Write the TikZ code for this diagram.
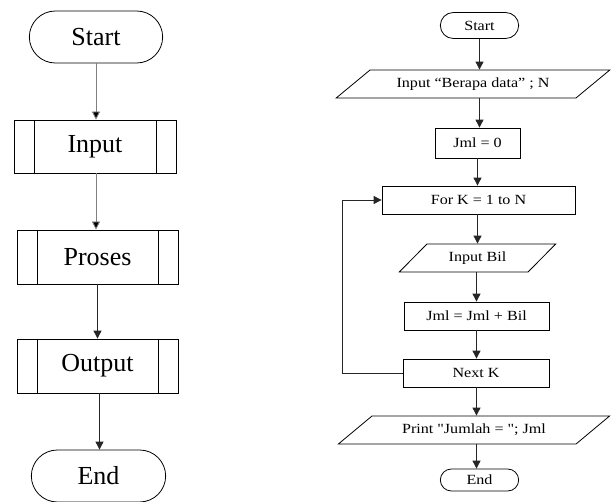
\documentclass[tikz,border=0pt]{standalone}
\usepackage{fontspec}
\setmainfont{Liberation Serif}
\newfontfamily\flowfont[FakeStretch=1.15]{Liberation Serif}
\usepackage{tikz}
\usetikzlibrary{arrows.meta, positioning, calc, shapes.misc, shapes.geometric}

\tikzset{
  bigterm/.style={draw, rounded rectangle, minimum width=140pt, minimum height=52pt,
    font=\fontsize{26}{30}\selectfont},
  bigproc/.style={draw, rectangle, minimum width=161pt, minimum height=54pt,
    font=\fontsize{26}{30}\selectfont,
    path picture={
      \draw ([xshift=20pt]path picture bounding box.north west) -- ([xshift=20pt]path picture bounding box.south west);
      \draw ([xshift=-20pt]path picture bounding box.north east) -- ([xshift=-20pt]path picture bounding box.south east);
    }},
  term/.style={draw, rounded rectangle, minimum width=85pt, minimum height=26pt,
    font=\flowfont\fontsize{14}{16}\selectfont},
  box/.style={draw, rectangle, minimum height=28pt, inner sep=2pt,
    font=\flowfont\fontsize{14}{16}\selectfont},
  iobox/.style={draw, trapezium, trapezium stretches=true, minimum height=28pt,
    inner sep=1pt, font=\flowfont\fontsize{14}{16}\selectfont},
  arr/.style={draw=black!85, line width=0.9pt, -{Triangle[length=8pt, width=8pt]}},
  thinarr/.style={draw=gray, line width=0.8pt, -{Triangle[length=8pt, width=8pt, fill=black]}}
}

\begin{document}
\begin{tikzpicture}[x=1pt, y=-1pt, line width=0.8pt]
  \useasboundingbox (0,0) rectangle (613,502);

  % left: general flow
  \node[bigterm] (lstart) at (96,37) {Start};
  \node[bigproc, minimum width=162pt, minimum height=53pt] (linput) at (95,146.5) {Input};
  \node[bigproc] (lproses) at (97.5,257) {Proses};
  \node[bigproc] (loutput) at (97.5,366) {Output};
  \node[bigterm, minimum width=141pt] (lend) at (98.5,476) {End};

  \draw[thinarr] (lstart.south) -- (lstart.south |- linput.north);
  \draw[thinarr] (lstart.south |- linput.south) -- (lstart.south |- lproses.north);
  \draw[arr] (lproses.south) -- (lproses.south |- loutput.north);
  \draw[arr] ([xshift=2pt]loutput.south) -- ([xshift=2pt]loutput.south |- lend.north);

  % right: sum of N numbers
  \node[term] (rstart) at (479.5,25.5) {Start};
  \node[iobox, trapezium left angle=30, trapezium right angle=150, minimum width=274pt]
    (rinput) at (473,84) {Input “Berapa data” ; N};
  \node[box, minimum width=85pt, minimum height=30pt] (rjml) at (477.5,143) {Jml = 0};
  \node[box, minimum width=193pt] (rfor) at (478.5,200) {For K = 1 to N};
  \node[iobox, trapezium left angle=42, trapezium right angle=138, minimum width=157pt]
    (rbil) at (477.5,258) {Input Bil};
  \node[box, minimum width=145pt] (rsum) at (476.5,316) {Jml = Jml + Bil};
  \node[box, minimum width=146pt] (rnext) at (476,373) {Next K};
  \node[iobox, trapezium left angle=30, trapezium right angle=150, minimum width=272pt]
    (rprint) at (474,430) {Print "Jumlah = "; Jml};
  \node[term, minimum height=22pt] (rend) at (479.5,480) {End};

  \draw[arr] (rstart.south) -- (rstart.south |- rinput.north);
  \draw[arr] (rstart.south |- rinput.south) -- (rstart.south |- rjml.north);
  \draw[arr] (rjml.south) -- (rjml.south |- rfor.north);
  \draw[arr] (rjml.south |- rfor.south) -- (rjml.south |- rbil.north);
  \draw[arr] (rsum.north |- rbil.south) -- (rsum.north);
  \draw[arr] (rsum.south) -- (rsum.south |- rnext.north);
  \draw[arr] (rsum.south |- rnext.south) -- (rsum.south |- rprint.north);
  \draw[arr] (rsum.south |- rprint.south) -- ([xshift=-3pt]rend.north);

  % loop back
  \draw[arr] (rnext.west) -- ++(-60,0) |- (rfor.west);
\end{tikzpicture}
\end{document}
